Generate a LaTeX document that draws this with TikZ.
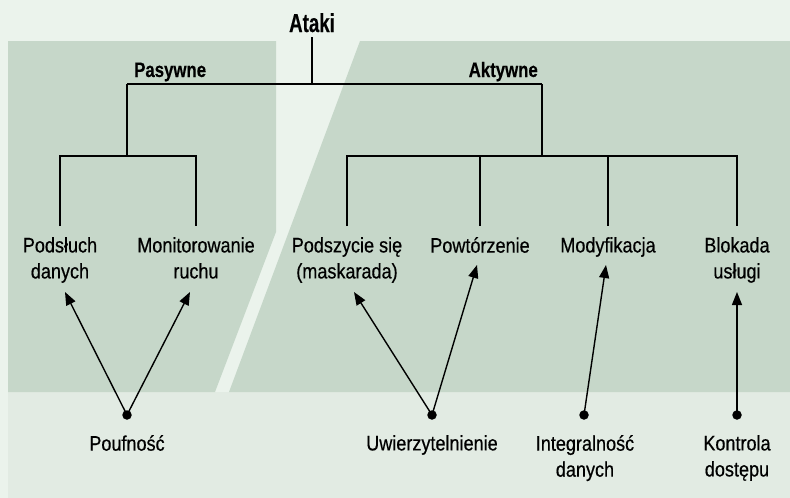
\documentclass[tikz,border=0pt]{standalone}
\usepackage{fontspec}
\setmainfont{Liberation Sans}[FakeStretch=0.86,FakeBold=0.5,BoldFeatures={FakeStretch=0.8,FakeBold=0.3}]
\newfontfamily\waski{Liberation Sans}[FakeStretch=0.72,BoldFeatures={FakeStretch=0.72,FakeBold=0.3}]
\usepackage{tikz}
\usetikzlibrary{arrows.meta}
\usetikzlibrary{positioning}

\definecolor{tlo}{RGB}{235,243,236}
\definecolor{panel}{RGB}{198,215,201}
\definecolor{pasek}{RGB}{226,235,227}

\tikzset{
  etykieta/.style={align=center, inner sep=0pt, anchor=north, font=\fontsize{21}{26}\selectfont},
  naglowek/.style={inner sep=0pt, anchor=base, font=\fontsize{21}{26}\selectfont\bfseries},
  galaz/.style={line width=1.5pt},
  strzalka/.style={line width=1.4pt, -{Triangle[length=13pt,width=10pt]}},
  kropka/.style={circle, fill=black, inner sep=0pt, minimum size=9.5pt},
}

\begin{document}
\begin{tikzpicture}[x=1pt,y=-1pt]
      % tlo i panele
      \fill[tlo] (0,0) rectangle (790,498);
      \fill[pasek] (8,392) rectangle (790,498);
      \fill[panel] (8,41) -- (276,41) -- (276,232) -- (215,392) -- (8,392) -- cycle;
      \fill[panel] (360,41) -- (790,41) -- (790,392) -- (229,392) -- cycle;

      % naglowki
      \node[naglowek, font=\fontsize{26}{30}\selectfont\waski\bfseries] (ataki) at (312,32) {Ataki};
      \node[naglowek, anchor=base west] (pasywne) at (134,77) {Pasywne};
      \node[naglowek, anchor=base east] (aktywne) at (538,77) {Aktywne};

      % rodzaje atakow
      \node[etykieta] (podsluch) at (60,237) {Podsłuch\\danych};
      \node[etykieta] (monitor) at (196,237) {Monitorowanie\\ruchu};
      \node[etykieta] (podszycie) at (347,237) {Podszycie się\\(maskarada)};
      \node[etykieta] (powtorzenie) at (480,237) {Powtórzenie};
      \node[etykieta] (modyfikacja) at (608,237) {Modyfikacja};
      \node[etykieta] (blokada) at (737,237) {Blokada\\usługi};

      % uslugi
      \node[etykieta] (poufnosc) at (127,435) {Poufność};
      \node[etykieta] (uwierz) at (432,435) {Uwierzytelnienie};
      \node[etykieta] (integral) at (585,435) {Integralność\\danych};
      \node[etykieta] (kontrola) at (737,435) {Kontrola\\dostępu};

      \node[kropka] (k1) at (127,415) {};
      \node[kropka] (k2) at (432,415) {};
      \node[kropka] (k3) at (584,415) {};
      \node[kropka] (k4) at (737,415) {};

      % drzewo
      \coordinate (wezelP) at (127,84);
      \coordinate (wezelA) at (542,84);
      \coordinate (szynaP) at (127,156);
      \coordinate (szynaA) at (542,156);
      \draw[galaz] ([yshift=-5pt]ataki.south) -- (ataki |- wezelP);
      \draw[galaz] (wezelP) -- (wezelA);
      \draw[galaz] (wezelP) -- (szynaP);
      \draw[galaz] (wezelA) -- (szynaA);
      \draw[galaz] ([yshift=11pt]podsluch.north) -- (podsluch |- szynaP) -- (monitor |- szynaP) -- ([yshift=11pt]monitor.north);
      \draw[galaz] ([yshift=11pt]podszycie.north) -- (podszycie |- szynaA) -- (blokada |- szynaA) -- ([yshift=11pt]blokada.north);
      \draw[galaz] (powtorzenie |- szynaA) -- ([yshift=11pt]powtorzenie.north);
      \draw[galaz] (modyfikacja |- szynaA) -- ([yshift=11pt]modyfikacja.north);

      % strzalki
      \coordinate (doPodsluch) at (65,292);
      \coordinate (doMonitor) at (190,292);
      \coordinate (doPodszycie) at (354,292);
      \coordinate (doPowtorzenie) at (477,265);
      \coordinate (doModyfikacja) at (606,265);
      \coordinate (doBlokada) at (737,292);
      \draw[strzalka] (k1.center) -- (doPodsluch);
      \draw[strzalka] (k1.center) -- (doMonitor);
      \draw[strzalka] (k2.center) -- (doPodszycie);
      \draw[strzalka] (k2.center) -- (doPowtorzenie);
      \draw[strzalka] (k3.center) -- (doModyfikacja);
      \draw[strzalka] (k4.center) -- (doBlokada);
\end{tikzpicture}
\end{document}
